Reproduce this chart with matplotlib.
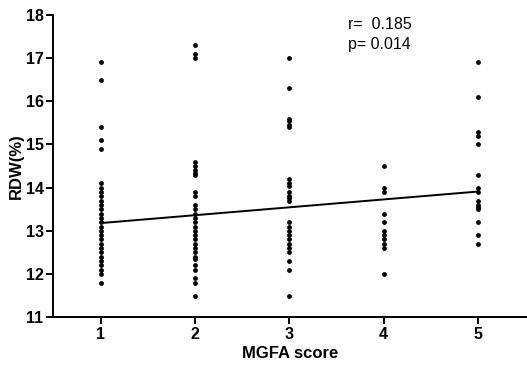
import matplotlib
matplotlib.use('Agg')
import matplotlib.pyplot as plt

plt.rcParams['font.family'] = ['Liberation Sans', 'DejaVu Sans']

# RDW values
score1 = [16.9, 16.5, 15.4, 15.1, 14.9,
          14.1, 14.0, 13.9, 13.8, 13.7, 13.6, 13.5, 13.4, 13.3, 13.2, 13.1,
          13.0, 12.9, 12.8, 12.7, 12.6, 12.5, 12.4, 12.3, 12.2, 12.1, 12.0, 11.8]
score2 = [17.3, 17.1, 17.0, 14.6, 14.5, 14.4, 14.35, 14.3, 13.9, 13.8, 13.6, 13.5,
          13.4, 13.3, 13.2, 13.1, 13.0, 12.9, 12.8, 12.7, 12.6, 12.5, 12.4, 12.35,
          12.2, 12.1, 11.9, 11.8, 11.5]
score3 = [17.0, 16.3, 15.6, 15.55, 15.45, 15.4, 14.2, 14.1, 14.05, 13.9, 13.8, 13.75, 13.7,
          13.2, 13.1, 13.0, 12.9, 12.8, 12.7, 12.6, 12.5, 12.3, 12.1, 11.5]
score4 = [14.5, 14.0, 13.9, 13.4, 13.2, 13.0, 12.9, 12.8, 12.7, 12.6, 12.0]
score5 = [16.9, 16.1, 15.3, 15.2, 15.0, 14.3, 14.0, 13.9, 13.7, 13.6, 13.55, 13.5,
          13.2, 12.9, 12.7]
groups = [score1, score2, score3, score4, score5]

# fitted line end points
fit_x = [1, 5]
fit_y = [13.18, 13.91]

r_text = 'r=  0.185'
p_text = 'p= 0.014'

fig = plt.figure(figsize=(5.27, 3.65), dpi=100)
ax = fig.add_axes([0.101, 0.131, 0.899, 0.828])

for i, vals in enumerate(groups, start=1):
    ax.scatter([i] * len(vals), vals, s=12, color='black', zorder=3, linewidths=0)

ax.plot(fit_x, fit_y, color='black', lw=1.4, zorder=2)

ax.text(3.62, 17.78, r_text, fontsize=11.5, va='center')
ax.text(3.62, 17.32, p_text, fontsize=11.5, va='center')

ax.set_xlim(0.494, 5.52)
ax.set_ylim(11, 18)
ax.set_xticks([1, 2, 3, 4, 5])
ax.set_yticks(range(11, 19))
for lab in ax.get_xticklabels() + ax.get_yticklabels():
    lab.set_fontweight('bold')
ax.tick_params(labelsize=11.5, width=1.4, length=5, direction='out', pad=2)
ax.set_xlabel('MGFA score', fontsize=12, fontweight='bold', labelpad=3)
ax.set_ylabel('RDW(%)', fontsize=12, fontweight='bold', labelpad=1)

ax.spines['top'].set_visible(False)
ax.spines['right'].set_visible(False)
ax.spines['left'].set_linewidth(1.4)
ax.spines['bottom'].set_linewidth(1.4)

fig.savefig('out.png', dpi=100)
